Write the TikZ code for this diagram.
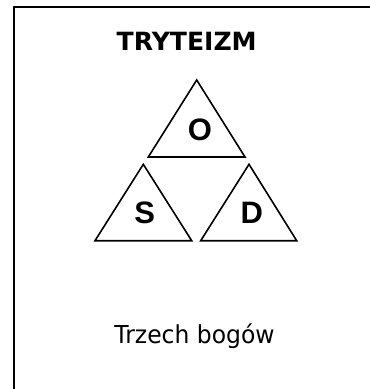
\documentclass[tikz,border=0pt]{standalone}
\usepackage{fontspec}
\setmainfont{Liberation Sans}
\newfontfamily\titlefont{DejaVu Sans}
\newfontfamily\capfont[FakeStretch=0.95]{DejaVu Sans}
\begin{document}
\begin{tikzpicture}[x=1pt,y=-1pt,
  frame/.style={line width=2.5pt},
  tri/.style={line width=1.6pt, line join=miter},
  letter/.style={anchor=base, inner sep=0pt, font=\fontsize{31}{33}\selectfont\bfseries},
  title/.style={anchor=base, inner sep=0pt, font=\titlefont\fontsize{25.1}{27}\selectfont\bfseries},
  caption/.style={anchor=base, inner sep=0pt, font=\capfont\fontsize{24.7}{27}\selectfont}]
\useasboundingbox (0,0) rectangle (370,389);
% frame (only top and left edges are visible)
\draw[frame] (14,391) -- (14,7) -- (372,7);
% title
\node[title] (title) at (186.7,50) {TRYTEIZM};
% triangles
\draw[tri] (196.7,80) -- (148.3,157) -- (245,157) -- cycle;
\draw[tri] (143.3,164.3) -- (95,240.7) -- (191.7,240.7) -- cycle;
\draw[tri] (249,164.3) -- (200.7,240.7) -- (296.7,240.7) -- cycle;
% letters
\node[letter] (O) at (200,140) {O};
\node[letter] (S) at (144.7,223.8) {S};
\node[letter] (D) at (251.7,223.3) {D};
% caption
\node[caption] (cap) at (194.5,343.3) {Trzech bogów};
\end{tikzpicture}
\end{document}
